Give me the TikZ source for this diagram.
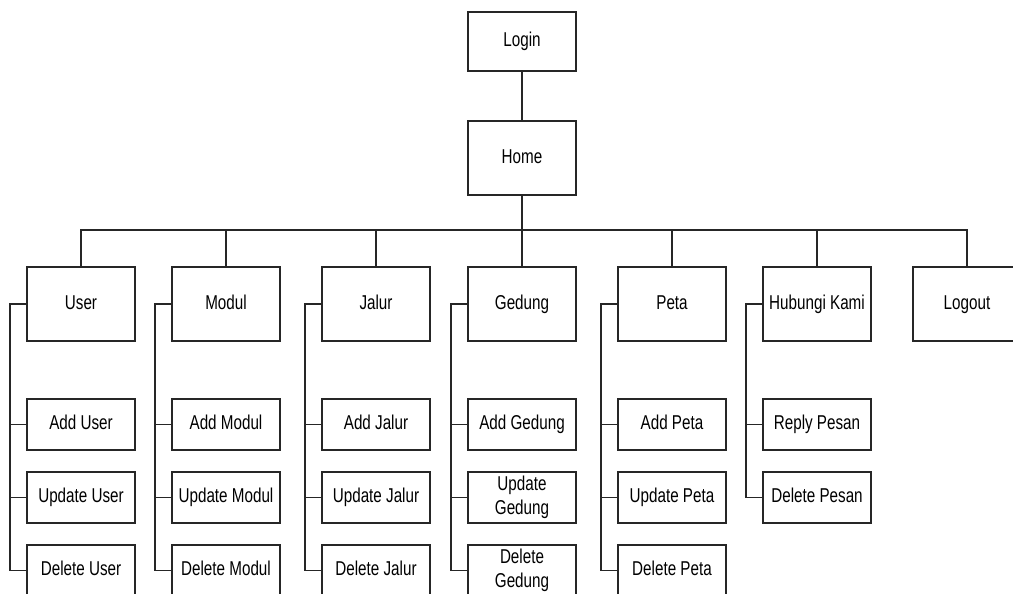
\documentclass[tikz,border=0pt]{standalone}
\usepackage{fontspec}
\setmainfont{Liberation Sans}[FakeStretch=0.76]
\begin{document}
\begin{tikzpicture}[
  x=0.02cm, y=-0.02cm,
  font=\fontsize{11.4}{13.6}\selectfont,
  box/.style={draw=black!85, line width=0.9pt, align=center, inner sep=1pt,
              minimum width=2.16cm},
  line1/.style={text height=8.4pt, text depth=2.4pt},
  menu/.style={box, line1, minimum height=1.48cm},
  top/.style={box, line1, minimum height=1.18cm},
  sub/.style={box, line1, minimum height=1.02cm},
  sub2/.style={box, minimum height=1.02cm},
  e/.style={draw=black!85, line width=0.9pt}
]
\useasboundingbox (0,0) rectangle (1013,594);

% login and home
\node[top] (login) at (522,41.5) {Login};
\node[menu] (home) at (522,158) {Home};

% main menus
\node[menu] (user) at (81,304)     {User};
\node[menu] (modul) at (226,304)   {Modul};
\node[menu] (jalur) at (376,304)   {Jalur};
\node[menu] (gedung) at (522,304)  {Gedung};
\node[menu] (peta) at (672,304)    {Peta};
\node[menu] (kontak) at (817,304)  {Hubungi Kami};
\node[menu] (logout) at (967,304)  {Logout};

% sub menus
\node[sub] (adduser) at (81,424.5)    {Add User};
\node[sub] (upduser) at (81,497.5)    {Update User};
\node[sub] (deluser) at (81,570.5)    {Delete User};
\node[sub] (addmodul) at (226,424.5)  {Add Modul};
\node[sub] (updmodul) at (226,497.5)  {Update Modul};
\node[sub] (delmodul) at (226,570.5)  {Delete Modul};
\node[sub] (addjalur) at (376,424.5)  {Add Jalur};
\node[sub] (updjalur) at (376,497.5)  {Update Jalur};
\node[sub] (deljalur) at (376,570.5)  {Delete Jalur};
\node[sub] (addgedung) at (522,424.5) {Add Gedung};
\node[sub2] (updgedung) at (522,497.5) {Update\\Gedung};
\node[sub2] (delgedung) at (522,570.5) {Delete\\Gedung};
\node[sub] (addpeta) at (672,424.5)   {Add Peta};
\node[sub] (updpeta) at (672,497.5)   {Update Peta};
\node[sub] (delpeta) at (672,570.5)   {Delete Peta};
\node[sub] (reply) at (817,424.5)     {Reply Pesan};
\node[sub] (delpesan) at (817,497.5)  {Delete Pesan};

% edges: login, home and the bus
\coordinate (bus) at (522,230);
\draw[e] (login) -- (home);
\draw[e] (home) -- (bus);
\foreach \m in {user,modul,jalur,gedung,peta,kontak,logout}
  \draw[e] (\m.north) |- (bus);

% edges: sub menus hang off the left side
\foreach \p/\c in {user/adduser,user/upduser,user/deluser,
                   modul/addmodul,modul/updmodul,modul/delmodul,
                   jalur/addjalur,jalur/updjalur,jalur/deljalur,
                   gedung/addgedung,gedung/updgedung,gedung/delgedung,
                   peta/addpeta,peta/updpeta,peta/delpeta,
                   kontak/reply,kontak/delpesan}
  \draw[e] (\p.west) -- ++(-16,0) |- (\c.west);

\end{tikzpicture}
\end{document}
